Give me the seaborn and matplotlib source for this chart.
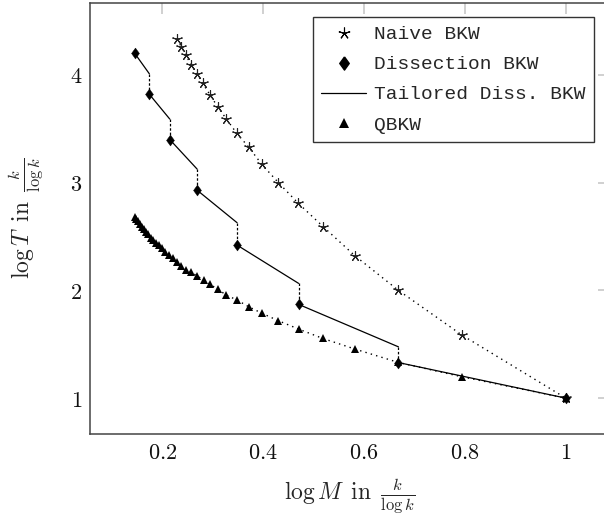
import numpy as np
import pandas as pd
import matplotlib
matplotlib.use("Agg")
import matplotlib.pyplot as plt
import seaborn as sns
from matplotlib.lines import Line2D
from matplotlib.ticker import FixedLocator, FuncFormatter

# ---- data ----
naive_x = [0.229, 0.2376, 0.247, 0.257, 0.269, 0.280, 0.295, 0.310, 0.327,
           0.347, 0.371, 0.397, 0.430, 0.469, 0.519, 0.582, 0.668, 0.794, 1.0]
naive_t = [4.33, 4.26, 4.18, 4.09, 4.01, 3.92, 3.81, 3.70, 3.59,
           3.46, 3.33, 3.17, 3.00, 2.81, 2.59, 2.32, 2.00, 1.585, 1.0]

diss_x = [0.145, 0.174, 0.2145, 0.2687, 0.348, 0.470, 0.668, 1.0]
diss_t = [4.20, 3.82, 3.40, 2.93, 2.42, 1.87, 1.33, 1.0]
# value the tailored curve reaches just before each jump (at diss_x[1:])
tail_top = [4.01, 3.59, 3.126, 2.628, 2.065, 1.476, 1.0]

qbkw_x = [0.145, 0.148, 0.151, 0.155, 0.159, 0.163, 0.168, 0.172, 0.177,
          0.182, 0.188, 0.193, 0.200, 0.206, 0.213, 0.221, 0.229, 0.237,
          0.247, 0.257, 0.269, 0.282, 0.295, 0.310, 0.327, 0.348, 0.371,
          0.398, 0.430, 0.470, 0.518, 0.582, 0.668, 0.794, 1.0]
qbkw_t = [2.68, 2.66, 2.64, 2.62, 2.59, 2.57, 2.54, 2.52, 2.49,
          2.47, 2.44, 2.42, 2.39, 2.36, 2.33, 2.30, 2.26, 2.228,
          2.191, 2.170, 2.133, 2.096, 2.056, 2.009, 1.956, 1.910, 1.848,
          1.786, 1.718, 1.641, 1.554, 1.455, 1.331, 1.198, 1.0]

x_ticks = [0.2, 0.4, 0.6, 0.8, 1]
y_ticks = [1, 2, 3, 4]
labels = ["Naive BKW", "Dissection BKW", "Tailored Diss. BKW", "QBKW"]

# ---- build tables ----
solid_rows, dash_rows = [], []
for i in range(len(diss_x) - 1):
    solid_rows += [(i, diss_x[i], diss_t[i]), (i, diss_x[i + 1], tail_top[i])]
    if tail_top[i] != diss_t[i + 1]:
        dash_rows += [(i, diss_x[i + 1], tail_top[i]), (i, diss_x[i + 1], diss_t[i + 1])]
solid_df = pd.DataFrame(solid_rows, columns=["seg", "x", "y"])
dash_df = pd.DataFrame(dash_rows, columns=["seg", "x", "y"])

sns.set_theme(style="white")
plt.rcParams["mathtext.fontset"] = "cm"
plt.rcParams["font.family"] = ["DejaVu Serif"]

fig = plt.figure(figsize=(6.04, 5.17), dpi=100)
W, H = 604, 517
ax = fig.add_axes([90.5 / W, 83 / H, (609 - 90.5) / W, 431 / H])

dot = (0, (1, 3))
star = (5, 2, 0)
diamond = [(0, 1), (0.72, 0), (0, -1), (-0.72, 0), (0, 1)]

sns.lineplot(x=naive_x, y=naive_t, ax=ax, color="black", lw=1.0, linestyle=dot,
             marker=star, markersize=7.5, markeredgewidth=0.8, markeredgecolor="#222222",
             sort=False, estimator=None)
sns.lineplot(x=qbkw_x, y=qbkw_t, ax=ax, color="black", lw=1.0, linestyle=dot,
             marker="^", markersize=5.8, markeredgewidth=0, sort=False, estimator=None)
sns.lineplot(data=solid_df, x="x", y="y", units="seg", estimator=None, sort=False,
             ax=ax, color="black", lw=0.9)
sns.lineplot(data=dash_df, x="x", y="y", units="seg", estimator=None, sort=False,
             ax=ax, color="black", lw=0.9, linestyle=(0, (2, 1.5)))
sns.scatterplot(x=diss_x, y=diss_t, ax=ax, color="black", marker=diamond, s=62,
                edgecolor="black", linewidth=0.3, zorder=5)

ax.set_xlim(0.0573, 1.0857)
ax.set_ylim(0.667, 4.667)
ax.xaxis.set_major_locator(FixedLocator(x_ticks))
ax.yaxis.set_major_locator(FixedLocator(y_ticks))
ax.xaxis.set_major_formatter(FuncFormatter(lambda v, p: f"${v:g}$"))
ax.yaxis.set_major_formatter(FuncFormatter(lambda v, p: f"${v:g}$"))
ax.tick_params(direction="in", length=8, width=1.1, color="#c4c4c4",
               top=True, right=True, labelsize=16, pad=6, labelcolor="#111111")
for s in ax.spines.values():
    s.set_color("#444444")
    s.set_linewidth(1.1)

ax.set_xlabel(r"$\log M\ \,\mathrm{in}\ \,\frac{k}{\log k}$", fontsize=17, labelpad=9)
ax.set_ylabel(r"$\log T\ \,\mathrm{in}\ \,\frac{k}{\log k}$", fontsize=17, labelpad=17)

handles = [
    Line2D([], [], ls="none", marker=star, markersize=8.5, mew=0.8, color="black"),
    Line2D([], [], ls="none", marker=diamond, markersize=9.5, color="black"),
    Line2D([], [], ls="-", lw=0.9, color="black"),
    Line2D([], [], ls="none", marker="^", markersize=7, mew=0, color="black"),
]
leg = ax.legend(handles, labels, loc="upper right", bbox_to_anchor=(594 / W, 1 - 17 / H),
                bbox_transform=fig.transFigure, borderaxespad=0, frameon=True,
                fancybox=False, framealpha=1, edgecolor="#333333",
                prop={"family": "Liberation Mono", "size": 14},
                handlelength=2.3, handletextpad=0.4, labelspacing=0.64, borderpad=0.45)
leg.get_frame().set_linewidth(1.0)

fig.savefig("out.png", dpi=100)
